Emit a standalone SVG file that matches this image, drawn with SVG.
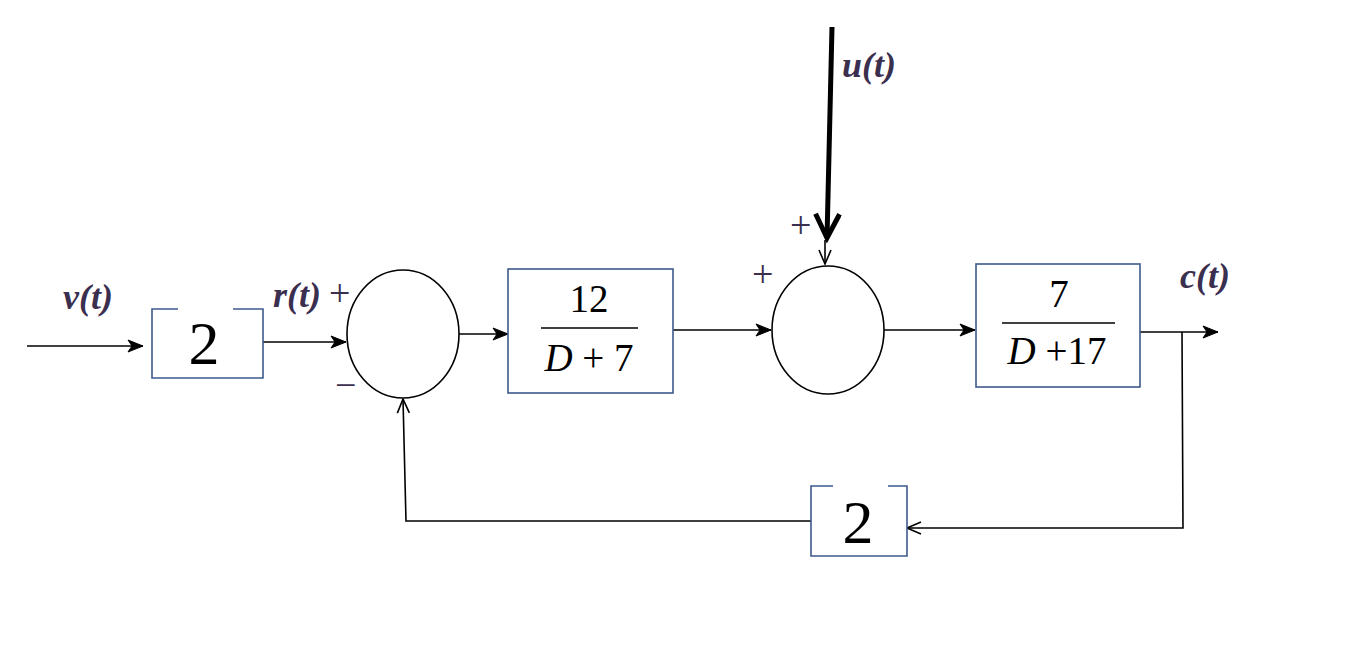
<svg xmlns="http://www.w3.org/2000/svg" width="1370" height="648" viewBox="0 0 1370 648">
<defs>
<style>
.box{fill:#fff;stroke:#3d5a8c;stroke-width:1.6}
.sum{fill:#fff;stroke:#000;stroke-width:1.6}
.wire{fill:none;stroke:#000;stroke-width:1.6}
.lbl{font-family:"Liberation Serif",serif;font-style:italic;font-weight:bold;font-size:36px;fill:#3b2f50}
.sign{font-family:"Liberation Serif",serif;font-size:38px;fill:#3b2f50}
.math{font-family:"Liberation Serif",serif;font-size:39px;fill:#000}
.big{font-family:"Liberation Serif",serif;font-size:62px;fill:#000}
</style>
<marker id="arr" markerUnits="userSpaceOnUse" markerWidth="20" markerHeight="14" refX="16" refY="7" orient="auto">
<path d="M1,1 L16,7 L1,13 L5,7 Z" fill="#000" stroke="#000" stroke-width="1"/>
</marker>
<marker id="open" markerUnits="userSpaceOnUse" markerWidth="20" markerHeight="14" refX="16" refY="7" orient="auto">
<path d="M2,1 L16,7 L2,13" fill="none" stroke="#000" stroke-width="1.6"/>
</marker>
<marker id="thick" markerUnits="userSpaceOnUse" markerWidth="36" markerHeight="36" refX="28" refY="14" orient="auto">
<path d="M4,2 L28,14 L4,26" fill="none" stroke="#000" stroke-width="5"/>
</marker>
</defs>
<rect width="1370" height="648" fill="#fff"/>

<g id="connectors">
<line class="wire" x1="27" y1="346" x2="143" y2="346" marker-end="url(#arr)"/>
<line class="wire" x1="263" y1="342" x2="346" y2="342" marker-end="url(#arr)"/>
<line class="wire" x1="459" y1="334" x2="508" y2="334" marker-end="url(#arr)"/>
<line class="wire" x1="673" y1="330" x2="771" y2="330" marker-end="url(#arr)"/>
<line class="wire" x1="884" y1="330" x2="975" y2="330" marker-end="url(#arr)"/>
<line class="wire" x1="1140" y1="332" x2="1218" y2="332" marker-end="url(#arr)"/>
<polyline class="wire" points="1182,332 1183,528 907,528" marker-end="url(#open)"/>
<polyline class="wire" points="811,521 406,521 403,399" marker-end="url(#open)"/>
<line class="wire" x1="825" y1="240" x2="825" y2="264" marker-end="url(#open)"/>
<line x1="832" y1="27" x2="827" y2="238" stroke="#000" stroke-width="5" marker-end="url(#thick)"/>
</g>

<g id="gain1">
<polyline class="box" points="178,309 152,309 152,378 263,378 263,309 233,309" fill="none"/>
<text class="big" x="204" y="364" text-anchor="middle">2</text>
</g>

<g id="sum1">
<ellipse class="sum" cx="403" cy="334" rx="56" ry="64"/>
</g>

<g id="block1">
<rect class="box" x="508" y="269" width="165" height="124"/>
<text class="math" x="589" y="312" text-anchor="middle">12</text>
<line x1="541" y1="328" x2="638" y2="328" stroke="#000" stroke-width="1.6"/>
<text class="math" x="589" y="371" text-anchor="middle"><tspan font-style="italic">D</tspan> + 7</text>
</g>

<g id="sum2">
<ellipse class="sum" cx="828" cy="330" rx="56" ry="64"/>
</g>

<g id="block2">
<rect class="box" x="976" y="264" width="164" height="123"/>
<text class="math" x="1059" y="307" text-anchor="middle">7</text>
<line x1="1002" y1="323" x2="1115" y2="323" stroke="#000" stroke-width="1.6"/>
<text class="math" x="1057" y="364" text-anchor="middle"><tspan font-style="italic">D</tspan> +17</text>
</g>

<g id="gain2">
<polyline class="box" points="833,486 811,486 811,556 907,556 907,486 888,486" fill="none"/>
<text class="big" x="858" y="543" text-anchor="middle">2</text>
</g>

<g id="labels">
<text class="lbl" x="63" y="309">v(t)</text>
<text class="lbl" x="273" y="307">r(t)</text>
<text class="sign" x="329" y="306">+</text>
<text class="sign" x="335" y="398">−</text>
<text class="sign" x="752" y="287">+</text>
<text class="sign" x="790" y="238">+</text>
<text class="lbl" x="842" y="77">u(t)</text>
<text class="lbl" x="1180" y="288">c(t)</text>
</g>
</svg>
